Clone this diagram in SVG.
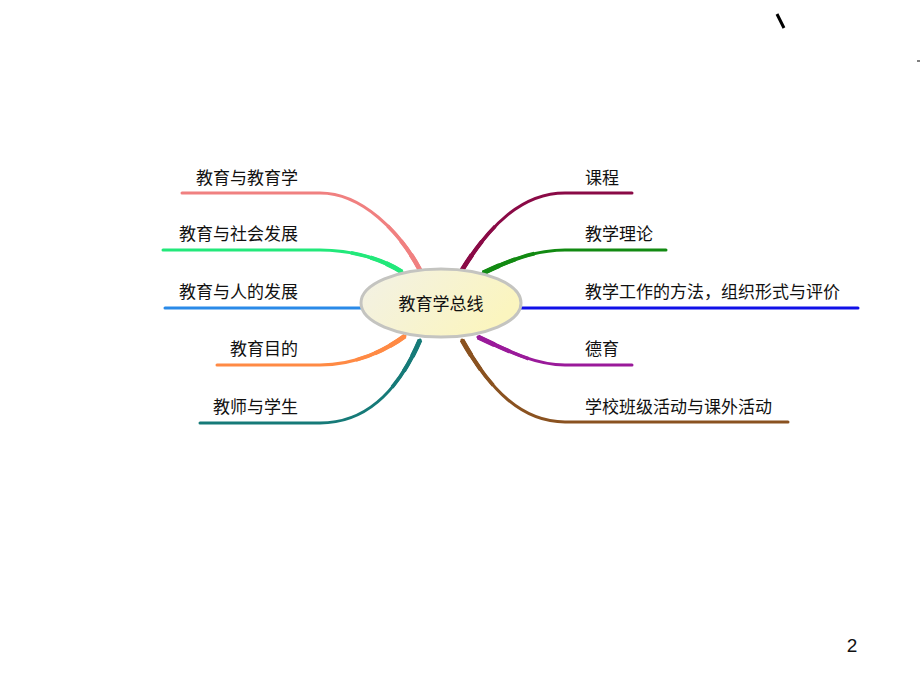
<svg xmlns="http://www.w3.org/2000/svg" width="920" height="690" viewBox="0 0 920 690">
<style>
.lbl{font-family:"Noto Sans CJK SC","Liberation Sans",sans-serif;font-size:17px;fill:#111}
.l{text-anchor:end}
.br{fill:none;stroke-width:3;stroke-linecap:round}
.t1{fill:none;stroke-width:3.6;stroke-dasharray:55 2000}
.t2{fill:none;stroke-width:4.2;stroke-dasharray:35 2000}
.t3{fill:none;stroke-width:4.8;stroke-dasharray:18 2000}
</style>
<defs>
<linearGradient id="g" x1="0" y1="0" x2="1" y2="0.4">
<stop offset="0" stop-color="#f2f1e6"/>
<stop offset="1" stop-color="#fbf5bf"/>
</linearGradient>
<path id="p1" d="M420,270 C400,232 362,193 320,193"/>
<path id="p2" d="M402,272 C382,259 352,250 320,250"/>
<path id="p4" d="M405,336 C386,350 356,365 320,365"/>
<path id="p5" d="M420,340 C402,382 372,423 320,423"/>
<path id="p6" d="M462,270 C490,225 522,193 565,193"/>
<path id="p7" d="M483,273 C510,260 536,250 565,250"/>
<path id="p9" d="M478,337 C510,352 536,365 565,365"/>
<path id="p10" d="M462,340 C490,390 522,422 565,422"/>
</defs>
<rect width="920" height="690" fill="#fff"/>
<g id="connectors">
<path class="br" stroke="#f08080" d="M182,193 H320 C362,193 400,232 420,270"/>
<path class="br" stroke="#22e87a" d="M163,250 H320 C352,250 382,259 402,272"/>
<path class="br" stroke="#2a8ae8" d="M165,308 H362"/>
<path class="br" stroke="#ff8a44" d="M217,365 H320 C356,365 386,350 405,336"/>
<path class="br" stroke="#167a78" d="M200,423 H320 C372,423 402,382 420,340"/>
<path class="br" stroke="#8a0a46" d="M462,270 C490,225 522,193 565,193 H632"/>
<path class="br" stroke="#128a12" d="M483,273 C510,260 536,250 565,250 H666"/>
<path class="br" stroke="#1010e8" d="M521,308 H858"/>
<path class="br" stroke="#9a1a9a" d="M478,337 C510,352 536,365 565,365 H632"/>
<path class="br" stroke="#8a5220" d="M462,340 C490,390 522,422 565,422 H788"/>
<g stroke="#f08080"><use href="#p1" class="t1"/><use href="#p1" class="t2"/><use href="#p1" class="t3"/></g>
<g stroke="#22e87a"><use href="#p2" class="t1"/><use href="#p2" class="t2"/><use href="#p2" class="t3"/></g>
<g stroke="#ff8a44"><use href="#p4" class="t1"/><use href="#p4" class="t2"/><use href="#p4" class="t3"/></g>
<g stroke="#167a78"><use href="#p5" class="t1"/><use href="#p5" class="t2"/><use href="#p5" class="t3"/></g>
<g stroke="#8a0a46"><use href="#p6" class="t1"/><use href="#p6" class="t2"/><use href="#p6" class="t3"/></g>
<g stroke="#128a12"><use href="#p7" class="t1"/><use href="#p7" class="t2"/><use href="#p7" class="t3"/></g>
<g stroke="#9a1a9a"><use href="#p9" class="t1"/><use href="#p9" class="t2"/><use href="#p9" class="t3"/></g>
<g stroke="#8a5220"><use href="#p10" class="t1"/><use href="#p10" class="t2"/><use href="#p10" class="t3"/></g>
</g>
<g id="center">
<ellipse cx="441" cy="303" rx="80" ry="34" fill="url(#g)" stroke="#c4c4c0" stroke-width="3"/>
<text class="lbl" x="441" y="310" text-anchor="middle">教育学总线</text>
</g>
<g id="n1"><text class="lbl l" x="298" y="184">教育与教育学</text></g>
<g id="n2"><text class="lbl l" x="298" y="240">教育与社会发展</text></g>
<g id="n3"><text class="lbl l" x="298" y="298">教育与人的发展</text></g>
<g id="n4"><text class="lbl l" x="298" y="355">教育目的</text></g>
<g id="n5"><text class="lbl l" x="298" y="413">教师与学生</text></g>
<g id="n6"><text class="lbl" x="585" y="184">课程</text></g>
<g id="n7"><text class="lbl" x="585" y="240">教学理论</text></g>
<g id="n8"><text class="lbl" x="585" y="298">教学工作的方法，组织形式与评价</text></g>
<g id="n9"><text class="lbl" x="585" y="355">德育</text></g>
<g id="n10"><text class="lbl" x="585" y="413">学校班级活动与课外活动</text></g>
<line x1="777" y1="14" x2="784" y2="28" stroke="#000" stroke-width="3"/>
<line x1="917" y1="61" x2="920" y2="61" stroke="#000" stroke-width="1"/>
<text x="852" y="652" font-family="Liberation Sans,sans-serif" font-size="19" fill="#111" text-anchor="middle">2</text>
</svg>
